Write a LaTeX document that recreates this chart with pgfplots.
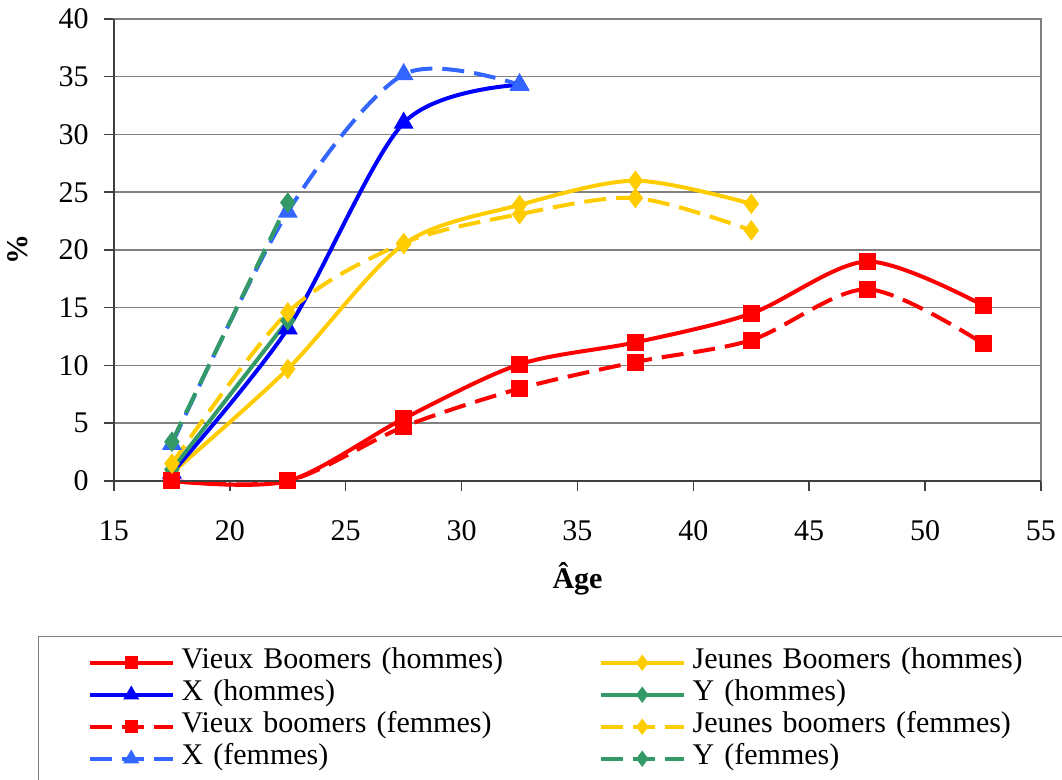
\documentclass[border=0pt]{standalone}
\usepackage{pgfplots}
\pgfplotsset{compat=1.18}
\usepackage{fontspec}
\setmainfont{Liberation Serif}

\definecolor{cRed}{HTML}{FF0000}
\definecolor{cBlue}{HTML}{0000FF}
\definecolor{cLightBlue}{HTML}{3366FF}
\definecolor{cYellow}{HTML}{FFCC00}
\definecolor{cGreen}{HTML}{339966}
\definecolor{cGrid}{HTML}{808080}
\definecolor{cAxis}{HTML}{404040}

\pgfplotsset{
  serie/.style={line width=2pt, smooth, mark options={solid}},
  dashedserie/.style={serie, dash pattern=on 11pt off 5pt},
}

\begin{document}
\fontsize{15}{18}\selectfont
\begin{tikzpicture}
\useasboundingbox (-57pt,-149.5pt) rectangle (474pt,240.5pt);
\begin{axis}[
  at={(0,0)}, anchor=south west,
  scale only axis, width=463.5pt, height=231pt,
  xmin=15, xmax=55, ymin=0, ymax=40,
  clip=false,
  xtick={15,20,...,55}, ytick={0,5,...,40},
  xtick pos=bottom, ytick pos=left,
  tick align=outside, major tick length=5pt,
  every tick/.style={cAxis, line width=0.75pt},
  axis line style={cGrid, line width=0.75pt},
  ymajorgrids, major grid style={cGrid, line width=0.75pt},
  /pgf/number format/assume math mode=true,
  yticklabel style={xshift=-2.5pt},
  xticklabel style={yshift=-9.5pt},
  xlabel={\textbf{Âge}},
  xlabel style={at={(axis description cs:0.5,-0.2121)}, anchor=center},
  ylabel={\textbf{\%}},
  ylabel style={at={(axis description cs:-0.1036,0.5)}, anchor=center},
  legend columns=2,
  legend cell align=left,
  legend image code/.code={%
    \draw[mark repeat=2,mark phase=2,#1] plot coordinates {(0pt,0pt) (20.75pt,0pt) (41.5pt,0pt)};},
  legend image post style={/tikz/every mark/.append style={scale=0.7}},
  legend style={
    at={(axis description cs:-0.08198,-0.3355)}, anchor=north west,
    draw=cGrid, line width=0.75pt,
    inner xsep=24.5pt, inner ysep=5pt,
    column sep=0pt, row sep=0pt,
    nodes={inner xsep=3.5pt, inner ysep=0pt, text height=11pt, text depth=5pt,
           text width=205pt, align=left},
  },
]
% Vieux Boomers (hommes)
\addplot[serie, color=cRed, mark=square*, mark size=3.25pt] coordinates {
  (17.5,0) (22.5,0) (27.5,5.4) (32.5,10.1) (37.5,12.0) (42.5,14.5) (47.5,19.0) (52.5,15.2)};
\addlegendentry{Vieux Boomers (hommes)}
% Jeunes Boomers (hommes)
\addplot[serie, color=cYellow, mark=diamond*, mark size=3.5pt] coordinates {
  (17.5,0.7) (22.5,9.7) (27.5,20.5) (32.5,23.9) (37.5,26.0) (42.5,24.0)};
\addlegendentry{Jeunes Boomers (hommes)}
% X (hommes)
\addplot[serie, color=cBlue, mark=triangle*, mark size=3.75pt] coordinates {
  (17.5,0.7) (22.5,13.2) (27.5,31.0) (32.5,34.3)};
\addlegendentry{X (hommes)}
% Y (hommes)
\addplot[serie, color=cGreen, mark=diamond*, mark size=3.5pt] coordinates {
  (17.5,1.0) (22.5,13.9)};
\addlegendentry{Y (hommes)}
% Vieux boomers (femmes)
\addplot[dashedserie, color=cRed, mark=square*, mark size=3.25pt] coordinates {
  (17.5,0) (22.5,0) (27.5,4.7) (32.5,8.0) (37.5,10.3) (42.5,12.2) (47.5,16.6) (52.5,11.9)};
\addlegendentry{Vieux boomers (femmes)}
% Jeunes boomers (femmes)
\addplot[dashedserie, color=cYellow, mark=diamond*, mark size=3.5pt] coordinates {
  (17.5,1.5) (22.5,14.6) (27.5,20.6) (32.5,23.1) (37.5,24.5) (42.5,21.7)};
\addlegendentry{Jeunes boomers (femmes)}
% X (femmes)
\addplot[dashedserie, color=cLightBlue, mark=triangle*, mark size=3.75pt] coordinates {
  (17.5,3.2) (22.5,23.3) (27.5,35.2) (32.5,34.3)};
\addlegendentry{X (femmes)}
% Y (femmes)
\addplot[dashedserie, color=cGreen, mark=diamond*, mark size=3.5pt] coordinates {
  (17.5,3.4) (22.5,24.1)};
\addlegendentry{Y (femmes)}
% darker left and bottom axis lines
\draw[cAxis, line width=0.75pt] (rel axis cs:0,1) -- (rel axis cs:0,0) -- (rel axis cs:1,0);
\end{axis}
\end{tikzpicture}
\end{document}
